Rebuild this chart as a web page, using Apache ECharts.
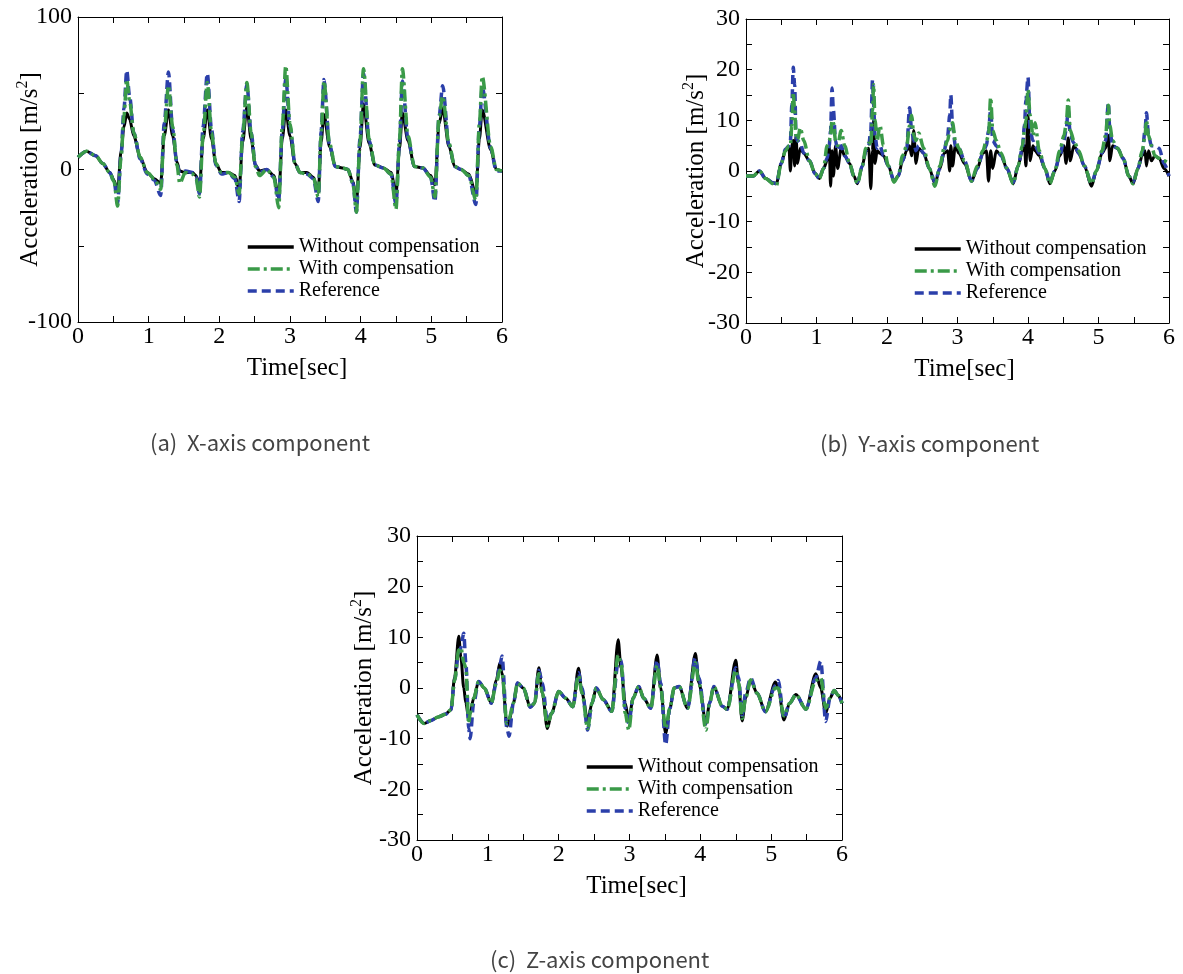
<!DOCTYPE html>
<html>
<head>
<meta charset="utf-8">
<script src="https://cdn.jsdelivr.net/npm/echarts@6/dist/echarts.min.js"></script>
<style>
html,body{margin:0;padding:0;background:#fff;}
#main{width:1183px;height:974px;}
</style>
</head>
<body>
<div id="main"></div>
<script>
// ---------- Data: (a) X-axis component ----------
var timeA = [0,0.12,0.25,0.35,0.45,0.51,0.56,0.61,0.65,0.69,0.73,0.79,0.88,0.98,1.08,1.17,1.22,1.28,1.34,1.40,1.44,1.52,1.62,1.67,1.72,1.77,1.83,1.89,1.95,2.03,2.13,2.22,2.28,2.33,2.39,2.45,2.51,2.57,2.67,2.77,2.84,2.89,2.94,3.00,3.07,3.14,3.24,3.33,3.40,3.44,3.48,3.56,3.64,3.74,3.82,3.89,3.94,3.99,4.04,4.12,4.20,4.32,4.43,4.50,4.55,4.59,4.67,4.76,4.88,4.99,5.05,5.11,5.16,5.25,5.33,5.42,5.53,5.63,5.68,5.72,5.84,5.92,6.00];
var withoutA = [8,12,9,4,-2,-7,-14,12,28,37,33,22,8,-2,-6,-9,22,39,22,5,-1,-2,-2,-4,-11,20,39,20,4,-2,-2,-4,-13,18,41,20,3,-1,0,-4,-18,20,39,22,4,-2,-2,-5,-15,18,36,15,2,1,0,-8,-22,14,43,17,3,1,-2,-16,14,37,19,2,1,-4,-10,30,40,15,2,0,-3,-16,20,39,13,0,-1];
var withA = [8,12,9,4,-2,-8,-24,8,35,59,45,24,8,-2,-6,-13,25,55,28,3,-9,-2,-3,-6,-18,22,57,24,4,-2,-2,-5,-16,22,57,24,2,-4,0,-5,-25,28,68,30,4,-2,-3,-5,-18,22,58,17,2,1,0,-9,-28,18,66,20,3,1,-3,-26,20,66,22,2,1,-5,-18,35,48,17,2,0,-4,-20,30,61,15,0,-1];
var refA = [8,12,9,4,-2,-8,-22,10,40,65,48,24,7,-3,-7,-17,30,64,26,4,-3,-1,-2,-5,-16,28,63,26,3,-3,-2,-6,-21,25,56,24,3,-2,0,-5,-20,25,60,28,4,-2,-3,-6,-21,25,59,16,2,1,0,-9,-28,20,63,19,3,1,-3,-23,18,58,20,2,1,-5,-21,35,55,16,2,0,-4,-23,28,54,14,-1,-1];

// ---------- Data: (b) Y-axis component ----------
var timeB = [0,0.1,0.19,0.28,0.38,0.43,0.5,0.56,0.61,0.63,0.65,0.67,0.69,0.71,0.73,0.77,0.82,0.9,0.98,1.04,1.1,1.15,1.18,1.2,1.22,1.24,1.27,1.3,1.35,1.4,1.47,1.53,1.58,1.65,1.7,1.74,1.77,1.795,1.81,1.83,1.86,1.9,1.95,2.02,2.1,2.16,2.22,2.28,2.32,2.35,2.38,2.41,2.45,2.52,2.6,2.68,2.75,2.81,2.86,2.89,2.905,2.93,2.97,3.02,3.1,3.2,3.28,3.36,3.41,3.44,3.47,3.5,3.55,3.62,3.7,3.79,3.86,3.92,3.95,3.97,4.0,4.03,4.07,4.1,4.16,4.24,4.31,4.38,4.45,4.51,4.54,4.57,4.6,4.65,4.72,4.8,4.9,4.97,5.05,5.1,5.14,5.16,5.2,5.27,5.35,5.43,5.49,5.56,5.62,5.66,5.68,5.71,5.75,5.8,5.86,5.93,6.0];
var withoutB = [-1,-1,0,-1.5,-2.3,-2.5,1.5,4.2,4.5,0,5,6,1,7,1.5,4.5,3.5,2,-0.5,-1.5,0.5,2,5,-3,4,-1,5,0.5,4.5,3,1.5,-1,-2.5,1,4,4.5,-3.5,4,10,1.5,4,3.5,3,1,-2,-1,2,4,5,3,8,1.5,4.5,3.5,0.5,-2.5,0.5,3.5,4,0,5,1,5,3.5,1.5,-2,0.5,3.5,4,-2,4,0.5,4,3,0.5,-2.5,1,4,5,1,11,2,5,4,3,0.5,-2.5,0,3,5,1.5,6.5,2,5,3.5,1,-3,0,3.5,4.5,7,2,5,4.5,2.5,-1,-2.5,0.5,3,4,1,4,2,3,2.5,0.5,-1];
var withB = [-1,-1,0,-1.5,-2.5,-2.9,1.5,4,5,5,9,15.5,12,7,6,8.5,6,2,-0.5,-1.5,0.5,5,6,7,10,9.5,6,5,8,5,1.5,-1,-2.5,1,4.5,5.5,5,12,17,10,6,9,5,1,-2.2,-1,3,5,9,11,7,6,7.5,4.5,0.5,-3,1,4.5,6,8,9,9.5,6,4.5,2,-2,1,4,6,7,14.5,8,6,3.5,0.5,-2.5,1,5,8,10,16,11,7,9.5,4,0.5,-2.5,0,4,7,9,14,8,6,4,1,-2.5,0,4,7,13,9,6,4.5,2.5,-1,-2.5,0.5,4,7,10,7,5,3,2.5,2,1.5];
var refB = [-1,-1,0,-1.5,-2.3,-2.5,1.5,4.3,5,6,13,20.5,17,7,6,5.5,3.5,2,-0.5,-1.5,0.5,2.5,5,8,16.4,12,6,4,5,3,1.5,-1,-2.2,1,4,5,8,18,13,7,4.5,5,3,1,-2,-1,2,4.5,12.5,8,6,4,5,3.5,0.5,-2.2,0.5,4,7,11,15,9,5,4.5,2,-2,0.5,3.5,5,8,12,6,5,3,0.5,-2.2,1,4.5,9,14,18.5,8,6,5,3.5,0.5,-2.2,0,3,6,8,12,7,5.5,3.5,1,-2.5,0,3.5,6,13.5,8,5,4.5,2.5,-1,-2.2,0.5,3.5,8,11.5,7,5,5,4.5,1.5,-1];

// ---------- Data: (c) Z-axis component ----------
var timeC = [0,0.1,0.2,0.3,0.4,0.48,0.53,0.59,0.62,0.66,0.69,0.73,0.75,0.8,0.87,0.95,1.05,1.12,1.17,1.2,1.27,1.3,1.36,1.42,1.5,1.6,1.66,1.72,1.77,1.84,1.9,2.0,2.1,2.2,2.28,2.33,2.41,2.47,2.53,2.63,2.75,2.84,2.88,2.94,2.99,3.05,3.13,3.2,3.3,3.39,3.44,3.51,3.57,3.63,3.7,3.82,3.93,3.98,4.08,4.13,4.19,4.31,4.38,4.5,4.54,4.59,4.64,4.71,4.8,4.92,5.06,5.1,5.18,5.26,5.35,5.49,5.63,5.7,5.77,5.83,5.89,5.95,6.0];
var withoutC = [-5.3,-7,-6.4,-5.7,-5.2,-4.3,2,10.2,6,0,-3,-6,-5,-2,1.3,0,-3,1.5,5,3,-7.5,-6.5,-3,1,0,-3.8,-3,4,-1,-8,-5,-0.7,-2,-3.7,3.9,-1,-6.5,-3,0,-2.3,-4.6,9.5,4,-3,-6.5,-2,0.3,-2,-4,6.5,0,-9,-4,0,0.3,-4,6.8,1,-7,-3,0.3,-3.6,-4.2,5.5,1,-6.5,-2,1.6,-1,-4.7,1.2,0,-6.3,-3,-1.3,-4.2,2.8,0,-5,-2,-0.5,-1.5,-3];
var withC = [-5.3,-7,-6.4,-5.7,-5.2,-4.3,1.5,7.5,8,5,4,-7,-5,-2,1.3,0,-3,1,3.5,3,-7,-6,-3,1,0,-3.8,-3,2.8,-1,-7.5,-5,-0.7,-2,-3.7,2.5,-1,-8,-3,0,-2.3,-4.6,6.5,5,-5,-8.3,-2,0.3,-2,-4,4.5,0,-8,-4,0,0.3,-4,5,1,-8.3,-3,0.3,-3.6,-4.2,3.5,1,-6,-2,1.6,-1,-4.7,0,0,-5.5,-3,-1.3,-4.2,1.5,2,-4,-2,-0.5,-1.5,-3];
var refC = [-5.3,-7,-6.4,-5.7,-5.2,-4.3,1.5,7,8,10.8,5,-8,-10,-3,1.3,0,-3,1,4.5,6.3,-8,-9.5,-3,1,0,-3.8,-3,3.5,1,-6.5,-5,-0.7,-2,-3.7,3,0,-8.3,-3,0,-2.3,-4.6,5,5.5,-4,-7,-2,0.3,-2,-4,5.5,1,-11.2,-4,0,0.3,-4,6,2,-7.5,-3,0.3,-3.6,-4.2,4,2,-5.5,-1,2,-1,-4.7,0.5,1.5,-6,-3,-1.3,-4.2,2,5.3,-6.6,-2,-0.5,-1.5,-3];

var seriesNames = ['Without compensation', 'With compensation', 'Reference'];

function zip(t, v) { return t.map(function (x, i) { return [x, v[i]]; }); }

var SERIF = 'Liberation Serif';
var BLACK = '#000000', GREEN = '#3a9a48', BLUE = '#2b3faa';

var grids = [
  { left: 78, top: 17, width: 424, height: 305 },
  { left: 746, top: 19, width: 423, height: 304 },
  { left: 417, top: 536, width: 425, height: 304 }
];
var yRanges = [
  { min: -100, max: 100, interval: 100 },
  { min: -30, max: 30, interval: 10 },
  { min: -30, max: 30, interval: 10 }
];
var yNameGaps = [35, 37, 40];

var axisLine = { show: true, onZero: false, lineStyle: { color: '#000', width: 1 } };
var tick = { show: true, inside: true, length: 6, lineStyle: { color: '#000', width: 1 } };
var minor = { show: true, splitNumber: 2, length: 6, lineStyle: { color: '#000', width: 1 } };
var labelStyle = { fontFamily: SERIF, fontSize: 24, color: '#000', fontWeight: 'normal' };

var xAxes = [], yAxes = [], series = [], legends = [];
grids.forEach(function (g, i) {
  xAxes.push({
    gridIndex: i, type: 'value', min: 0, max: 6, interval: 1, position: 'bottom',
    axisLine: axisLine, axisTick: tick, minorTick: minor, splitLine: { show: false },
    axisLabel: Object.assign({ margin: 3 }, labelStyle),
    name: 'Time[sec]', nameLocation: 'middle', nameGap: 34, nameMoveOverlap: false,
    nameTextStyle: { fontFamily: SERIF, fontSize: 25, color: '#000', padding: [0, 0, 0, 14] }
  });
  xAxes.push({
    gridIndex: i, type: 'value', min: 0, max: 6, interval: 1, position: 'top',
    axisLine: axisLine, axisTick: tick, minorTick: minor, splitLine: { show: false },
    axisLabel: { show: false }
  });
  var yr = yRanges[i];
  yAxes.push({
    gridIndex: i, type: 'value', min: yr.min, max: yr.max, interval: yr.interval, position: 'left',
    axisLine: axisLine, axisTick: tick, minorTick: minor, splitLine: { show: false },
    axisLabel: Object.assign({ margin: 6 }, labelStyle),
    name: '{n|Acceleration [m/s}{s|2}{n|]}', nameLocation: 'middle', nameGap: yNameGaps[i],
    nameMoveOverlap: false,
    nameTextStyle: {
      fontFamily: SERIF, fontSize: 25, color: '#000',
      rich: {
        n: { fontFamily: SERIF, fontSize: 25, color: '#000', lineHeight: 28, verticalAlign: 'bottom' },
        s: { fontFamily: SERIF, fontSize: 16, color: '#000', lineHeight: 28, verticalAlign: 'top' }
      }
    }
  });
  yAxes.push({
    gridIndex: i, type: 'value', min: yr.min, max: yr.max, interval: yr.interval, position: 'right',
    axisLine: axisLine, axisTick: tick, minorTick: minor, splitLine: { show: false },
    axisLabel: { show: false }
  });
});

var dataSets = [
  [timeA, withoutA, withA, refA],
  [timeB, withoutB, withB, refB],
  [timeC, withoutC, withC, refC]
];
dataSets.forEach(function (d, i) {
  var common = {
    type: 'line', xAxisIndex: i * 2, yAxisIndex: i * 2, symbol: 'none', showSymbol: false,
    smooth: 0.3, smoothMonotone: 'x', animation: false, silent: true
  };
  series.push(Object.assign({}, common, { name: seriesNames[0], data: zip(d[0], d[1]), z: 2,
    lineStyle: { color: BLACK, width: 3, type: 'solid' }, itemStyle: { color: BLACK } }));
  series.push(Object.assign({}, common, { name: seriesNames[2], data: zip(d[0], d[3]), z: 3,
    lineStyle: { color: BLUE, width: 3.5, type: [9, 5] }, itemStyle: { color: BLUE } }));
  series.push(Object.assign({}, common, { name: seriesNames[1], data: zip(d[0], d[2]), z: 4,
    lineStyle: { color: GREEN, width: 3.5, type: [12, 4, 3, 4] }, itemStyle: { color: GREEN } }));
});

var legendPos = [ { left: 246, top: 237 }, { left: 913, top: 239 }, { left: 585, top: 757 } ];
legendPos.forEach(function (p) {
  legends.push({
    orient: 'vertical', left: p.left, top: p.top, data: seriesNames,
    itemWidth: 46, itemHeight: 14, itemGap: 2, selectedMode: false, padding: 0,
    itemStyle: { opacity: 0 },
    lineStyle: { width: 3.5 },
    textStyle: { fontFamily: SERIF, fontSize: 20, color: '#000', lineHeight: 20 }
  });
});

var captionFont = 'normal 22px "Noto Sans CJK KR"';
var option = {
  backgroundColor: '#ffffff',
  animation: false,
  textStyle: { fontFamily: SERIF },
  grid: grids,
  xAxis: xAxes,
  yAxis: yAxes,
  legend: legends,
  series: series,
  graphic: [
    { type: 'text', left: 150, top: 432, style: { text: '(a)  X-axis component', font: captionFont, fill: '#444' } },
    { type: 'text', left: 820, top: 433, style: { text: '(b)  Y-axis component', font: captionFont, fill: '#444' } },
    { type: 'text', left: 490, top: 949, style: { text: '(c)  Z-axis component', font: captionFont, fill: '#444' } }
  ]
};

var chart = echarts.init(document.getElementById('main'), null, { renderer: 'canvas' });
chart.setOption(option);
</script>
</body>
</html>
